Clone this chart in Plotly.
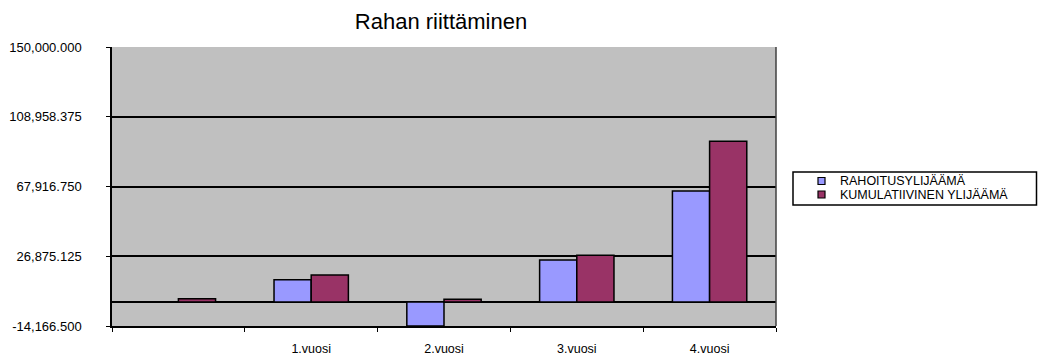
import plotly.graph_objects as go

# Data
years = [" ", "1.vuosi", "2.vuosi", "3.vuosi", "4.vuosi"]
series_names = ["RAHOITUSYLIJÄÄMÄ", "KUMULATIIVINEN YLIJÄÄMÄ"]
rahoitusylijaama = [0, 13100, -14166.5, 24600, 65200]
kumulatiivinen = [1800, 15900, 1600, 27400, 94500]
y_ticks = [-14166.5, 26875.125, 67916.75, 108958.375, 150000.0]
y_tick_labels = [f"{v:,.3f}" for v in y_ticks]

colors = ["#9999FF", "#993366"]
FONT = "Liberation Sans, Arial, sans-serif"

W, H = 1039, 357
ML, MR, MT, MB = 112, 263, 47, 31
PW, PH = W - ML - MR, H - MT - MB


def px_x(x):
    return (x - ML) / PW


def px_y(y):
    return (H - MB - y) / PH


fig = go.Figure()
for name, vals, col in zip(series_names, [rahoitusylijaama, kumulatiivinen], colors):
    fig.add_trace(go.Bar(
        x=years, y=vals, name=name,
        marker=dict(color=col, line=dict(color="#000000", width=1.5)),
        showlegend=False,
    ))

# Legend box drawn in paper coordinates
shapes = [dict(type="rect", xref="paper", yref="paper",
               x0=px_x(793), x1=px_x(1036.5), y0=px_y(205), y1=px_y(172),
               line=dict(color="#000000", width=1.5), fillcolor="#FFFFFF")]
annotations = []
for i, (name, col) in enumerate(zip(series_names, colors)):
    cy = 181 + i * 13.5
    shapes.append(dict(type="rect", xref="paper", yref="paper",
                       x0=px_x(818), x1=px_x(825), y0=px_y(cy + 3.5), y1=px_y(cy - 3.5),
                       line=dict(color="#000000", width=1.2), fillcolor=col))
    annotations.append(dict(x=px_x(838), y=px_y(cy), xref="paper", yref="paper",
                            text=name, showarrow=False, xanchor="left", yanchor="middle",
                            font=dict(family=FONT, size=12.5, color="#000000")))

fig.update_layout(
    width=W, height=H,
    margin=dict(l=ML, r=MR, t=MT, b=MB),
    paper_bgcolor="#FFFFFF",
    plot_bgcolor="#C0C0C0",
    barmode="group", bargap=0.44, bargroupgap=0,
    title=dict(text="Rahan riittäminen", x=441 / W, xanchor="center",
               y=1 - 21 / H, yanchor="middle", yref="container",
               font=dict(family=FONT, size=22, color="#000000")),
    font=dict(family=FONT, color="#000000"),
    shapes=shapes, annotations=annotations,
    xaxis=dict(
        type="category", tickson="boundaries", ticks="outside", ticklen=4,
        tickcolor="#000000", showgrid=False, showline=True, linecolor="#000000",
        linewidth=1.5, mirror=False, tickfont=dict(family=FONT, size=12.5),
        ticklabelstandoff=10, automargin=False,
    ),
    yaxis=dict(
        range=[y_ticks[0], y_ticks[-1]], tickvals=y_ticks, ticktext=y_tick_labels,
        ticks="outside", ticklen=4, tickcolor="#000000",
        showgrid=True, gridcolor="#000000", gridwidth=1.5,
        zeroline=True, zerolinecolor="#000000", zerolinewidth=1.5,
        showline=True, linecolor="#000000", linewidth=1.5,
        tickfont=dict(family=FONT, size=13), ticklabelstandoff=22, automargin=False,
    ),
)

# Right edge of the plot area
fig.add_shape(type="line", xref="paper", yref="paper", x0=1, x1=1, y0=0, y1=1,
              line=dict(color="#404040", width=1.5))

fig.write_html("out.html")
